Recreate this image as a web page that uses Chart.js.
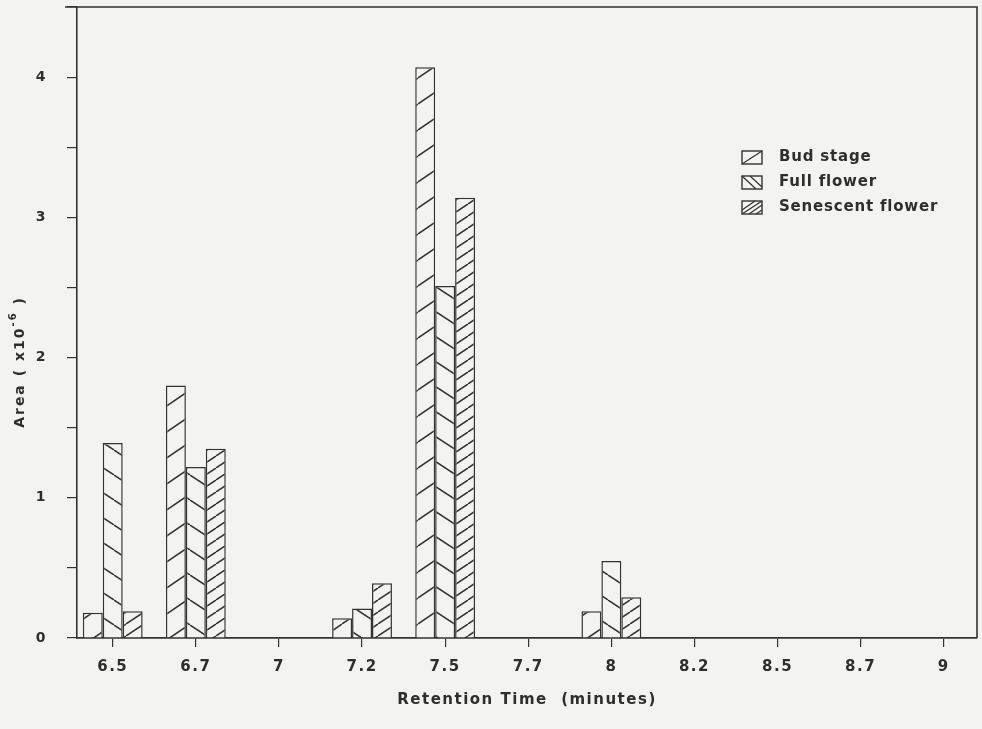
<!DOCTYPE html>
<html>
<head>
<meta charset="utf-8">
<script src="https://cdn.jsdelivr.net/npm/chart.js@4.4.1/dist/chart.umd.min.js"></script>
<style>
  html, body { margin: 0; padding: 0; background: #f3f3ef; }
  #wrap { width: 982px; height: 729px; }
</style>
</head>
<body>
<div id="wrap"><canvas id="chart" width="982" height="729"></canvas></div>
<script>
const retentionTimes = ["6.5", "6.7", "7", "7.2", "7.5", "7.7", "8", "8.2", "8.5", "8.7", "9"];
const budStage = [0.18, 1.80, null, 0.14, 4.07, null, 0.19, null, null, null, null];
const fullFlower = [1.39, 1.22, null, 0.21, 2.51, null, 0.55, null, null, null, null];
const senescentFlower = [0.19, 1.35, null, 0.39, 3.14, null, 0.29, null, null, null, null];

const ink = "#333333";
const paper = "#f3f3ef";

// x position = index of the retention time label
function toPoints(values) {
  return values
    .map((v, i) => ({ x: i, y: v }))
    .filter((p) => p.y !== null);
}

// hatch pattern: dir 1 = "/", dir -1 = "\"
function hatch(w, h, dir) {
  const c = document.createElement("canvas");
  c.width = w;
  c.height = h;
  const g = c.getContext("2d");
  g.fillStyle = paper;
  g.fillRect(0, 0, w, h);
  g.strokeStyle = ink;
  g.lineWidth = 1.5;
  [-w, 0, w].forEach((dx) => {
    g.beginPath();
    if (dir > 0) {
      g.moveTo(dx, h);
      g.lineTo(dx + w, 0);
    } else {
      g.moveTo(dx, 0);
      g.lineTo(dx + w, h);
    }
    g.stroke();
  });
  return g.createPattern(c, "repeat");
}

const budPattern = hatch(38, 26, 1);
const fullPattern = hatch(38, 25, -1);
const senPattern = hatch(18, 12, 1);

// little swatch hatching for the legend
const swatchLines = [
  [[0, 13, 20, 0]],
  [[0, 0, 14, 13], [8, 0, 20, 11]],
  [[0, 9, 13, 0], [0, 13, 20, 0], [7, 13, 20, 4], [14, 13, 20, 9]]
];

const framePlugin = {
  id: "frame",
  beforeLayout(chart) {
    chart.ctx.letterSpacing = "1.5px";
  },
  beforeDraw(chart) {
    chart.ctx.letterSpacing = "1.5px";
  },
  afterDraw(chart) {
    const { ctx, chartArea } = chart;
    ctx.save();
    ctx.strokeStyle = ink;
    ctx.lineWidth = 1.6;
    ctx.beginPath();
    ctx.moveTo(chartArea.left - 12, chartArea.top);
    ctx.lineTo(chartArea.right, chartArea.top);
    ctx.lineTo(chartArea.right, chartArea.bottom);
    ctx.stroke();

    // y axis title
    ctx.save();
    ctx.translate(20, 362);
    ctx.rotate(-Math.PI / 2);
    ctx.fillStyle = "#2e2e2e";
    ctx.textBaseline = "middle";
    ctx.letterSpacing = "2px";
    const a = "Area ( x10";
    const b = "-6";
    const c = " )";
    ctx.font = "bold 14px 'DejaVu Sans'";
    const wa = ctx.measureText(a).width;
    const wc = ctx.measureText(c).width;
    ctx.font = "bold 10px 'DejaVu Sans'";
    const wb = ctx.measureText(b).width;
    let x = -(wa + wb + wc) / 2;
    ctx.font = "bold 14px 'DejaVu Sans'";
    ctx.fillText(a, x, 0);
    x += wa;
    ctx.font = "bold 10px 'DejaVu Sans'";
    ctx.fillText(b, x, -7);
    x += wb;
    ctx.font = "bold 14px 'DejaVu Sans'";
    ctx.fillText(c, x, 0);
    ctx.restore();

    // legend
    ctx.letterSpacing = "0.8px";
    ctx.font = "bold 15px 'DejaVu Sans'";
    ctx.textBaseline = "middle";
    const x0 = chartArea.right - 235;
    const y0 = chartArea.top + 150;
    chart.data.datasets.forEach((ds, i) => {
      const y = y0 + i * 25;
      const top = y - 6;
      ctx.fillStyle = paper;
      ctx.fillRect(x0, top, 20, 13);
      ctx.lineWidth = 1.2;
      ctx.beginPath();
      swatchLines[i].forEach((l) => {
        ctx.moveTo(x0 + l[0], top + l[1]);
        ctx.lineTo(x0 + l[2], top + l[3]);
      });
      ctx.stroke();
      ctx.lineWidth = 1.4;
      ctx.strokeRect(x0, top, 20, 13);
      ctx.fillStyle = "#2e2e2e";
      ctx.fillText(ds.label, x0 + 37, y);
    });
    ctx.restore();
  }
};

new Chart(document.getElementById("chart"), {
  type: "bar",
  data: {
    datasets: [
      { label: "Bud stage", data: toPoints(budStage), backgroundColor: budPattern },
      { label: "Full flower", data: toPoints(fullFlower), backgroundColor: fullPattern },
      { label: "Senescent flower", data: toPoints(senescentFlower), backgroundColor: senPattern }
    ]
  },
  options: {
    responsive: false,
    animation: false,
    layout: { padding: { top: 7, right: 5, left: 0, bottom: 0 } },
    datasets: {
      bar: {
        borderColor: ink,
        borderWidth: 1.5,
        categoryPercentage: 0.72,
        barPercentage: 1
      }
    },
    plugins: {
      legend: { display: false },
      tooltip: { enabled: false }
    },
    scales: {
      x: {
        type: "linear",
        min: -0.43,
        max: 10.4,
        offset: false,
        afterBuildTicks: (scale) => {
          scale.ticks = retentionTimes.map((_, i) => ({ value: i }));
        },
        afterFit: (scale) => {
          scale.height = 91;
          scale.paddingLeft = 0;
          scale.paddingRight = 0;
        },
        grid: { offset: false, drawOnChartArea: false, drawTicks: true, tickLength: 9, color: ink, lineWidth: 1.2 },
        border: { display: true, color: ink, width: 1.8 },
        ticks: {
          autoSkip: false,
          maxRotation: 0,
          color: "#2e2e2e",
          padding: 11,
          font: { family: "DejaVu Sans", size: 15, weight: "bold" },
          callback: (v) => retentionTimes[v] ?? ""
        },
        title: {
          display: true,
          text: "Retention Time  (minutes)",
          color: "#2e2e2e",
          padding: { top: 0, bottom: 20 },
          font: { family: "DejaVu Sans", size: 15, weight: "bold" }
        }
      },
      y: {
        min: 0,
        max: 4.5,
        afterFit: (scale) => {
          scale.width = 77;
          scale.paddingTop = 0;
          scale.paddingBottom = 0;
        },
        grid: { drawOnChartArea: false, drawTicks: true, tickLength: 10, color: ink, lineWidth: 1.2 },
        border: { display: true, color: ink, width: 1.6 },
        ticks: {
          stepSize: 0.5,
          autoSkip: false,
          padding: 20,
          color: "#2e2e2e",
          font: { family: "DejaVu Sans", size: 14, weight: "bold" },
          callback: (v) => (Number.isInteger(v) && v < 4.5 ? v : "")
        }
      }
    }
  },
  plugins: [framePlugin]
});
</script>
</body>
</html>
